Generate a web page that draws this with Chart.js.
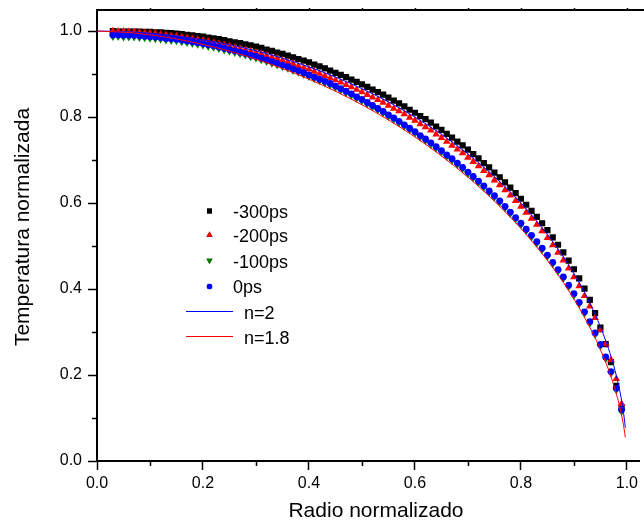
<!DOCTYPE html>
<html>
<head>
<meta charset="utf-8">
<title>Temperatura normalizada</title>
<script src="https://cdn.jsdelivr.net/npm/chart.js@4.4.0/dist/chart.umd.min.js"></script>
<style>
  html, body { margin: 0; padding: 0; background: #fff; }
  #wrap { width: 644px; height: 527px; }
</style>
</head>
<body>
<div id="wrap"><canvas id="perfil" width="644" height="527"></canvas></div>
<script>
// normalised radius of the measured points
const radius = [
  0.03, 0.04, 0.05, 0.06, 0.07, 0.08, 0.09, 0.10, 0.11, 0.12, 0.13, 0.14, 0.15, 0.16, 0.17, 0.18, 0.19,
  0.20, 0.21, 0.22, 0.23, 0.24, 0.25, 0.26, 0.27, 0.28, 0.29, 0.30, 0.31, 0.32, 0.33, 0.34, 0.35, 0.36,
  0.37, 0.38, 0.39, 0.40, 0.41, 0.42, 0.43, 0.44, 0.45, 0.46, 0.47, 0.48, 0.49, 0.50, 0.51, 0.52, 0.53,
  0.54, 0.55, 0.56, 0.57, 0.58, 0.59, 0.60, 0.61, 0.62, 0.63, 0.64, 0.65, 0.66, 0.67, 0.68, 0.69, 0.70,
  0.71, 0.72, 0.73, 0.74, 0.75, 0.76, 0.77, 0.78, 0.79, 0.80, 0.81, 0.82, 0.83, 0.84, 0.85, 0.86, 0.87,
  0.88, 0.89, 0.90, 0.91, 0.92, 0.93, 0.94, 0.95, 0.96, 0.97, 0.98, 0.99
];

// normalised temperature for each delay
const t300 = [
  1.000, 0.999, 0.999, 0.999, 0.999, 0.999, 0.998, 0.998, 0.997, 0.997, 0.996, 0.995, 0.994, 0.993, 0.991, 0.990, 0.988,
  0.987, 0.985, 0.983, 0.981, 0.979, 0.976, 0.974, 0.972, 0.969, 0.967, 0.964, 0.961, 0.957, 0.954, 0.950, 0.947, 0.943,
  0.939, 0.935, 0.931, 0.927, 0.922, 0.918, 0.913, 0.908, 0.903, 0.898, 0.893, 0.887, 0.882, 0.876, 0.870, 0.864, 0.858,
  0.852, 0.845, 0.838, 0.832, 0.825, 0.817, 0.810, 0.802, 0.795, 0.787, 0.778, 0.770, 0.761, 0.752, 0.743, 0.734, 0.724,
  0.714, 0.704, 0.693, 0.683, 0.671, 0.660, 0.648, 0.636, 0.623, 0.610, 0.596, 0.582, 0.568, 0.553, 0.537, 0.520, 0.503,
  0.485, 0.466, 0.446, 0.425, 0.401, 0.375, 0.344, 0.310, 0.272, 0.230, 0.175, 0.125
];
const t200 = [
  1.000, 0.999, 0.999, 0.998, 0.998, 0.997, 0.996, 0.995, 0.994, 0.992, 0.991, 0.989, 0.988, 0.986, 0.984, 0.982, 0.980,
  0.978, 0.976, 0.973, 0.971, 0.968, 0.965, 0.962, 0.959, 0.956, 0.953, 0.950, 0.947, 0.943, 0.939, 0.936, 0.932, 0.928,
  0.924, 0.919, 0.915, 0.911, 0.906, 0.901, 0.896, 0.891, 0.886, 0.881, 0.875, 0.870, 0.864, 0.858, 0.852, 0.846, 0.840,
  0.834, 0.827, 0.820, 0.814, 0.807, 0.799, 0.792, 0.784, 0.777, 0.769, 0.760, 0.752, 0.743, 0.734, 0.725, 0.716, 0.706,
  0.696, 0.686, 0.675, 0.665, 0.653, 0.642, 0.630, 0.618, 0.605, 0.592, 0.578, 0.564, 0.550, 0.535, 0.519, 0.502, 0.485,
  0.467, 0.448, 0.428, 0.407, 0.384, 0.360, 0.333, 0.304, 0.272, 0.235, 0.191, 0.133
];
const t100 = [
  0.987, 0.987, 0.986, 0.986, 0.986, 0.985, 0.984, 0.983, 0.982, 0.981, 0.979, 0.978, 0.977, 0.975, 0.973, 0.971, 0.969,
  0.967, 0.964, 0.962, 0.959, 0.956, 0.953, 0.950, 0.947, 0.944, 0.940, 0.937, 0.933, 0.929, 0.925, 0.921, 0.917, 0.913,
  0.908, 0.904, 0.899, 0.894, 0.889, 0.884, 0.879, 0.874, 0.868, 0.862, 0.856, 0.850, 0.843, 0.837, 0.830, 0.823, 0.816,
  0.809, 0.801, 0.794, 0.786, 0.778, 0.770, 0.762, 0.753, 0.745, 0.736, 0.727, 0.718, 0.708, 0.699, 0.689, 0.679, 0.668,
  0.658, 0.647, 0.636, 0.624, 0.613, 0.601, 0.588, 0.575, 0.562, 0.549, 0.535, 0.521, 0.506, 0.491, 0.475, 0.458, 0.441,
  0.424, 0.405, 0.385, 0.365, 0.343, 0.320, 0.294, 0.267, 0.238, 0.204, 0.165, 0.115
];
const t0 = [
  0.991, 0.991, 0.990, 0.990, 0.990, 0.989, 0.988, 0.987, 0.986, 0.985, 0.983, 0.982, 0.981, 0.979, 0.977, 0.975, 0.973,
  0.971, 0.968, 0.966, 0.963, 0.960, 0.957, 0.954, 0.951, 0.948, 0.944, 0.941, 0.937, 0.933, 0.929, 0.925, 0.921, 0.917,
  0.912, 0.908, 0.903, 0.898, 0.893, 0.888, 0.883, 0.878, 0.872, 0.866, 0.860, 0.854, 0.847, 0.841, 0.834, 0.827, 0.820,
  0.813, 0.805, 0.798, 0.790, 0.782, 0.774, 0.766, 0.757, 0.749, 0.740, 0.731, 0.722, 0.712, 0.703, 0.693, 0.683, 0.672,
  0.662, 0.651, 0.640, 0.628, 0.617, 0.605, 0.592, 0.579, 0.566, 0.553, 0.539, 0.525, 0.510, 0.495, 0.479, 0.462, 0.445,
  0.428, 0.409, 0.389, 0.369, 0.347, 0.324, 0.298, 0.271, 0.242, 0.208, 0.169, 0.119
];

// fitted profiles, n = 2 and n = 1.8
const fitR = [
  0, 0.05, 0.10, 0.15, 0.20, 0.25, 0.30, 0.35, 0.40, 0.45, 0.50, 0.55, 0.60, 0.65, 0.70,
  0.75, 0.80, 0.85, 0.88, 0.90, 0.92, 0.94, 0.95, 0.96, 0.97, 0.98, 0.99, 0.995, 0.997
];
const fitN2 = [
  1.000, 0.9987, 0.9950, 0.9887, 0.9798, 0.9682, 0.9539, 0.9368, 0.9165, 0.8930, 0.8660, 0.8352, 0.8000, 0.7599, 0.7141,
  0.6614, 0.6000, 0.5268, 0.4750, 0.4359, 0.3919, 0.3412, 0.3123, 0.2800, 0.2431, 0.1990, 0.1411, 0.0999, 0.0774
];
const fitN18 = [
  1.000, 0.9975, 0.9912, 0.9816, 0.9690, 0.9533, 0.9347, 0.9130, 0.8882, 0.8601, 0.8286, 0.7932, 0.7538, 0.7097, 0.6603,
  0.6045, 0.5409, 0.4666, 0.4156, 0.3770, 0.3346, 0.2865, 0.2595, 0.2297, 0.1963, 0.1570, 0.1071, 0.0729, 0.0549
];

const minorTicks = [0.1, 0.3, 0.5, 0.7, 0.9];

const FONT = 'Arial, "Liberation Sans", sans-serif';

const xy = (xs, ys) => xs.map((x, i) => ({ x: x, y: ys[i] }));

// axis titles, minor ticks and the top frame line
const framePlugin = {
  id: 'frame',
  afterDraw(chart) {
    const { ctx, chartArea: a, scales: { x, y } } = chart;
    ctx.save();
    ctx.strokeStyle = '#000';
    ctx.lineWidth = 2;
    ctx.beginPath();
    ctx.moveTo(a.left - 1, a.top);
    ctx.lineTo(chart.width, a.top);
    ctx.stroke();

    ctx.lineWidth = 1.5;
    ctx.beginPath();
    minorTicks.forEach(v => {
      const px = Math.round(x.getPixelForValue(v)) + 0.5;
      ctx.moveTo(px, a.bottom);
      ctx.lineTo(px, a.bottom + 5);
      const py = Math.round(y.getPixelForValue(v)) + 0.5;
      ctx.moveTo(a.left, py);
      ctx.lineTo(a.left - 5, py);
    });
    [0.1, 0.2, 0.3, 0.4, 0.5, 0.6, 0.7, 0.8, 0.9, 1.0].forEach(v => {
      const px = Math.round(x.getPixelForValue(v)) + 0.5;
      ctx.moveTo(px, a.top);
      ctx.lineTo(px, a.top - 2);
    });
    ctx.stroke();

    ctx.fillStyle = '#000';
    ctx.font = '21px ' + FONT;
    ctx.textAlign = 'center';
    ctx.textBaseline = 'middle';
    ctx.fillText('Radio normalizado', 376, 511);
    ctx.translate(23, 227);
    ctx.rotate(-Math.PI / 2);
    ctx.fillText('Temperatura normalizada', 0, 0);
    ctx.restore();
  }
};

// legend inside the plot
const legendPlugin = {
  id: 'perfilLegend',
  afterDraw(chart) {
    const ctx = chart.ctx;
    const ds = chart.data.datasets;
    const byLabel = l => ds.find(d => d.label === l);
    ctx.save();
    ctx.font = '18px ' + FONT;
    ctx.fillStyle = '#000';
    ctx.textAlign = 'left';
    ctx.textBaseline = 'alphabetic';
    const marks = [['-300ps', 211, 217.5], ['-200ps', 235, 242], ['-100ps', 260.5, 267.5], ['0ps', 286.5, 292.5]];
    marks.forEach(([label, cy, base]) => {
      const d = byLabel(label);
      Chart.helpers.drawPoint(ctx, {
        pointStyle: d.pointStyle,
        radius: d.pointRadius * 0.8,
        rotation: d.pointRotation || 0,
        borderWidth: 0
      }, 209.5, cy);
      ctx.fillStyle = d.backgroundColor;
      ctx.fill();
      ctx.fillStyle = '#000';
      ctx.fillText(label, 233, base);
    });
    [['n=2', 311.5, 318.5], ['n=1.8', 336.5, 343.5]].forEach(([label, cy, base]) => {
      const d = byLabel(label);
      ctx.strokeStyle = d.borderColor;
      ctx.lineWidth = 1;
      ctx.beginPath();
      ctx.moveTo(186, cy);
      ctx.lineTo(233, cy);
      ctx.stroke();
      ctx.fillText(label, 244, base);
    });
    ctx.restore();
  }
};

const markers = (label, ys, style, r, color, rot) => ({
  label: label,
  data: xy(radius, ys),
  showLine: false,
  pointStyle: style,
  pointRadius: r,
  pointRotation: rot || 0,
  pointBorderWidth: 0,
  backgroundColor: color,
  borderColor: color
});

const fitLine = (label, ys, color) => ({
  label: label,
  data: xy(fitR, ys),
  showLine: true,
  borderColor: color,
  borderWidth: 1,
  pointRadius: 0,
  cubicInterpolationMode: 'monotone',
  fill: false
});

const axisTicks = {
  color: '#000',
  font: { family: FONT, size: 16 },
  callback: v => Number(v).toFixed(1)
};

// no extra room for edge tick labels
const noEdgePadding = s => {
  s.paddingLeft = 0;
  s.paddingRight = 0;
  s.paddingTop = 0;
  s.paddingBottom = 0;
};

new Chart(document.getElementById('perfil'), {
  type: 'scatter',
  data: {
    // first dataset ends up on top
    datasets: [
      fitLine('n=1.8', fitN18, '#ff0000'),
      fitLine('n=2', fitN2, '#0000ff'),
      markers('0ps', t0, 'circle', 3.4, '#0000ff'),
      markers('-100ps', t100, 'triangle', 4.4, '#008000', 180),
      markers('-200ps', t200, 'triangle', 4.4, '#ff0000'),
      markers('-300ps', t300, 'rect', 4.4, '#000000')
    ]
  },
  options: {
    responsive: false,
    devicePixelRatio: 1,
    animation: false,
    layout: { padding: { top: 10, right: 0, left: 0, bottom: 0 } },
    plugins: {
      legend: { display: false },
      tooltip: { enabled: false }
    },
    scales: {
      x: {
        type: 'linear',
        min: 0,
        max: 1.024,
        afterFit: s => { s.height = 66; noEdgePadding(s); },
        ticks: Object.assign({ stepSize: 0.2, includeBounds: false, padding: 4, maxRotation: 0 }, axisTicks),
        grid: { drawOnChartArea: false, drawTicks: true, tickLength: 9, tickWidth: 1.5, tickColor: '#000' },
        border: { display: true, color: '#000', width: 2 }
      },
      y: {
        type: 'linear',
        min: 0,
        max: 1.049,
        afterFit: s => { s.width = 97; noEdgePadding(s); },
        ticks: Object.assign({ stepSize: 0.2, includeBounds: false, padding: 6 }, axisTicks),
        grid: { drawOnChartArea: false, drawTicks: true, tickLength: 9, tickWidth: 1.5, tickColor: '#000' },
        border: { display: true, color: '#000', width: 2 }
      }
    }
  },
  plugins: [framePlugin, legendPlugin]
});
</script>
</body>
</html>
